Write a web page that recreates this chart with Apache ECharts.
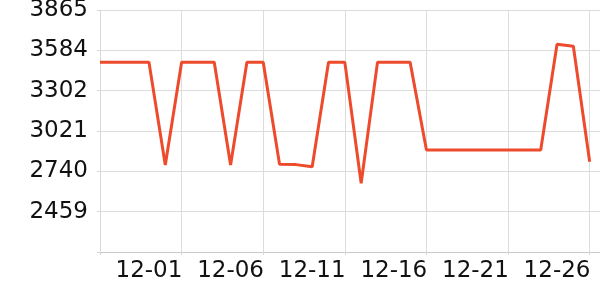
<!DOCTYPE html>
<html>
<head>
<meta charset="utf-8">
<script src="https://cdn.jsdelivr.net/npm/echarts@6/dist/echarts.min.js"></script>
<style>html,body{margin:0;padding:0;background:#fff}#c{width:600px;height:300px}</style>
</head>
<body>
<div id="c"></div>
<script>
const categories = ['11-28','11-29','11-30','12-01','12-02','12-03','12-04','12-05','12-06','12-07','12-08','12-09','12-10','12-11','12-12','12-13','12-14','12-15','12-16','12-17','12-18','12-19','12-20','12-21','12-22','12-23','12-24','12-25','12-26','12-27','12-28','12-29'];
const values = [3500,3500,3500,3500,2784,3500,3500,3500,2784,3500,3500,2789,2787,2772,3500,3500,2657,3500,3500,3500,2889,2889,2889,2889,2889,2889,2889,2889,3626,3612,2807];
const yTickLabels = ['', '2459', '2740', '3021', '3302', '3584', '3865'];
const yMin = 2177.8, yMax = 3865, yInterval = 281.2;

const chart = echarts.init(document.getElementById('c'), null, {renderer: 'canvas'});
chart.setOption({
  animation: false,
  grid: {left: 100, right: -6, top: 10, bottom: 48, outerBoundsMode: 'none', containLabel: false},
  xAxis: {
    type: 'category',
    data: categories,
    boundaryGap: false,
    axisLine: {show: true, lineStyle: {color: '#c8c8c8', width: 1}},
    axisTick: {show: true, length: 3, interval: function (i) { return i % 5 === 0; }, lineStyle: {color: '#d8d8d8'}},
    splitLine: {show: true, interval: function (i) { return i % 5 === 0; }, lineStyle: {color: '#dcdcdc', width: 1}},
    axisLabel: {
      interval: function (i) { return i % 5 === 3; },
      fontFamily: 'DejaVu Sans', fontSize: 23, color: '#111', margin: 8
    }
  },
  yAxis: {
    type: 'value',
    min: yMin, max: yMax, interval: yInterval,
    axisLine: {show: true, lineStyle: {color: '#d8d8d8', width: 1}},
    axisTick: {show: true, length: 3, lineStyle: {color: '#d8d8d8'}},
    splitLine: {show: true, lineStyle: {color: '#dcdcdc', width: 1}},
    axisLabel: {
      fontFamily: 'DejaVu Sans', fontSize: 23, color: '#111', margin: 12,
      formatter: function (v, idx) { return yTickLabels[idx] !== undefined ? yTickLabels[idx] : ''; }
    }
  },
  series: [{
    type: 'line',
    data: values,
    showSymbol: false,
    symbol: 'none',
    lineStyle: {color: '#ee4a2c', width: 3},
    itemStyle: {color: '#ee4a2c'}
  }]
});
</script>
</body>
</html>
